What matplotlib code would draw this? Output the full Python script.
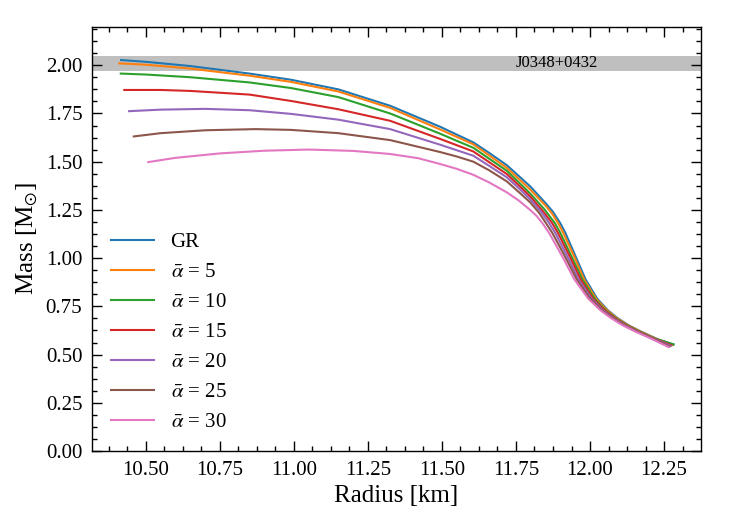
import matplotlib
matplotlib.use("Agg")
import matplotlib.pyplot as plt
from matplotlib.ticker import AutoMinorLocator, MultipleLocator

# -----------------------------------------------------------------------
# Mass-radius curves (R in km, M in M_sun)
# -----------------------------------------------------------------------
R_gr = [10.416, 10.50, 10.65, 10.85, 10.99, 11.15, 11.325, 11.494, 11.606, 11.66,
        11.719, 11.76, 11.798, 11.850, 11.875, 11.900, 11.917, 11.951, 11.985,
        12.024, 12.060, 12.092, 12.130, 12.171, 12.228, 12.282]
M_gr = [2.027, 2.018, 1.996, 1.957, 1.925, 1.875, 1.790, 1.681, 1.600, 1.545,
        1.482, 1.425, 1.372, 1.285, 1.240, 1.180, 1.130, 1.010, 0.890,
        0.790, 0.730, 0.690, 0.652, 0.620, 0.580, 0.552]

R_a5 = [10.410, 10.50, 10.65, 10.85, 10.99, 11.15, 11.325, 11.494, 11.606, 11.66,
        11.719, 11.76, 11.798, 11.850, 11.870, 11.893, 11.910, 11.946, 11.980,
        12.020, 12.057, 12.089, 12.128, 12.169, 12.226, 12.280]
M_a5 = [2.010, 2.003, 1.983, 1.946, 1.914, 1.864, 1.779, 1.667, 1.590, 1.532,
        1.468, 1.410, 1.356, 1.272, 1.235, 1.180, 1.130, 1.010, 0.890,
        0.790, 0.730, 0.690, 0.652, 0.620, 0.580, 0.550]

R_a10 = [10.415, 10.50, 10.65, 10.85, 10.99, 11.15, 11.325, 11.494, 11.606, 11.66,
         11.719, 11.76, 11.798, 11.845, 11.882, 11.900, 11.937, 11.974, 12.015,
         12.052, 12.085, 12.124, 12.165, 12.223, 12.282]
M_a10 = [1.957, 1.952, 1.938, 1.911, 1.882, 1.835, 1.750, 1.645, 1.572, 1.515,
         1.453, 1.392, 1.335, 1.255, 1.180, 1.130, 1.010, 0.890, 0.790,
         0.730, 0.690, 0.652, 0.620, 0.580, 0.553]

R_a15 = [10.427, 10.55, 10.65, 10.85, 10.99, 11.15, 11.325, 11.494, 11.606, 11.66,
         11.719, 11.76, 11.798, 11.840, 11.873, 11.892, 11.931, 11.968, 12.010,
         12.049, 12.082, 12.121, 12.162, 12.220, 12.275]
M_a15 = [1.872, 1.872, 1.867, 1.848, 1.815, 1.772, 1.712, 1.618, 1.553, 1.497,
         1.436, 1.377, 1.320, 1.245, 1.180, 1.130, 1.010, 0.890, 0.790,
         0.730, 0.690, 0.652, 0.620, 0.580, 0.548]

R_a20 = [10.443, 10.55, 10.70, 10.85, 10.99, 11.15, 11.325, 11.494, 11.606, 11.66,
         11.719, 11.76, 11.798, 11.835, 11.863, 11.883, 11.923, 11.961, 12.005,
         12.044, 12.078, 12.118, 12.159, 12.217, 12.272]
M_a20 = [1.762, 1.770, 1.774, 1.767, 1.748, 1.718, 1.669, 1.588, 1.531, 1.478,
         1.419, 1.362, 1.305, 1.240, 1.180, 1.130, 1.010, 0.890, 0.790,
         0.730, 0.690, 0.652, 0.620, 0.580, 0.545]

R_a25 = [10.459, 10.55, 10.70, 10.87, 10.99, 11.15, 11.325, 11.494, 11.55, 11.606,
         11.66, 11.719, 11.76, 11.798, 11.828, 11.852, 11.873, 11.915, 11.955,
         12.000, 12.040, 12.074, 12.114, 12.156, 12.214, 12.268]
M_a25 = [1.631, 1.648, 1.663, 1.669, 1.665, 1.648, 1.612, 1.550, 1.527, 1.500,
         1.455, 1.398, 1.342, 1.289, 1.235, 1.180, 1.130, 1.010, 0.890,
         0.790, 0.730, 0.690, 0.652, 0.620, 0.580, 0.542]

R_a30 = [10.508, 10.60, 10.75, 10.90, 11.05, 11.20, 11.325, 11.42, 11.494, 11.55,
         11.606, 11.66, 11.719, 11.76, 11.798, 11.820, 11.840, 11.862, 11.906,
         11.947, 11.994, 12.035, 12.070, 12.110, 12.152, 12.210, 12.265]
M_a30 = [1.498, 1.520, 1.543, 1.557, 1.563, 1.556, 1.540, 1.518, 1.488, 1.463,
         1.432, 1.392, 1.341, 1.298, 1.250, 1.218, 1.180, 1.130, 1.010,
         0.890, 0.790, 0.730, 0.690, 0.652, 0.620, 0.580, 0.539]

labels = ["GR", r"$\bar{\alpha}$ = 5", r"$\bar{\alpha}$ = 10", r"$\bar{\alpha}$ = 15",
          r"$\bar{\alpha}$ = 20", r"$\bar{\alpha}$ = 25", r"$\bar{\alpha}$ = 30"]

# J0348+0432 mass band
band_lo, band_hi = 1.97, 2.05
band_label = "J0348+0432"

# -----------------------------------------------------------------------
# Style
# -----------------------------------------------------------------------
plt.rcParams["font.family"] = ["Liberation Serif", "DejaVu Serif"]
plt.rcParams["mathtext.fontset"] = "stix"
plt.rcParams["xtick.direction"] = "in"
plt.rcParams["ytick.direction"] = "in"
plt.rcParams["xtick.top"] = True
plt.rcParams["ytick.right"] = True

fig = plt.figure(figsize=(7.38, 5.31), dpi=100)
ax = fig.add_axes([0.1247, 0.1507, 0.8248, 0.799])

curves = [(R_gr, M_gr), (R_a5, M_a5), (R_a10, M_a10), (R_a15, M_a15),
          (R_a20, M_a20), (R_a25, M_a25), (R_a30, M_a30)]
for (r, m), lab in zip(curves, labels):
    ax.plot(r, m, lw=1.5, label=lab, solid_joinstyle="round")

ax.axhspan(band_lo, band_hi, color="gray", alpha=0.5, lw=0, zorder=0)
ax.text(11.75, (band_lo + band_hi) / 2, band_label, ha="left", va="center",
        fontsize=12)

ax.set_xlim(10.318, 12.374)
ax.set_ylim(0, 2.2)
ax.xaxis.set_major_locator(MultipleLocator(0.25))
ax.yaxis.set_major_locator(MultipleLocator(0.25))
ax.xaxis.set_minor_locator(AutoMinorLocator(4))
ax.yaxis.set_minor_locator(AutoMinorLocator(4))
ax.tick_params(which="major", length=7, width=1, labelsize=15, pad=7)
ax.tick_params(which="minor", length=3.5, width=1)
for s in ax.spines.values():
    s.set_linewidth(1)

ax.set_xlabel("Radius [km]", fontsize=18)
ax.set_ylabel(r"Mass [M$_{\odot}$]", fontsize=18)
ax.legend(loc="lower left", frameon=False, fontsize=15, handlelength=2.07,
          labelspacing=0.5)

fig.savefig("out.png", dpi=100)
plt.close(fig)
